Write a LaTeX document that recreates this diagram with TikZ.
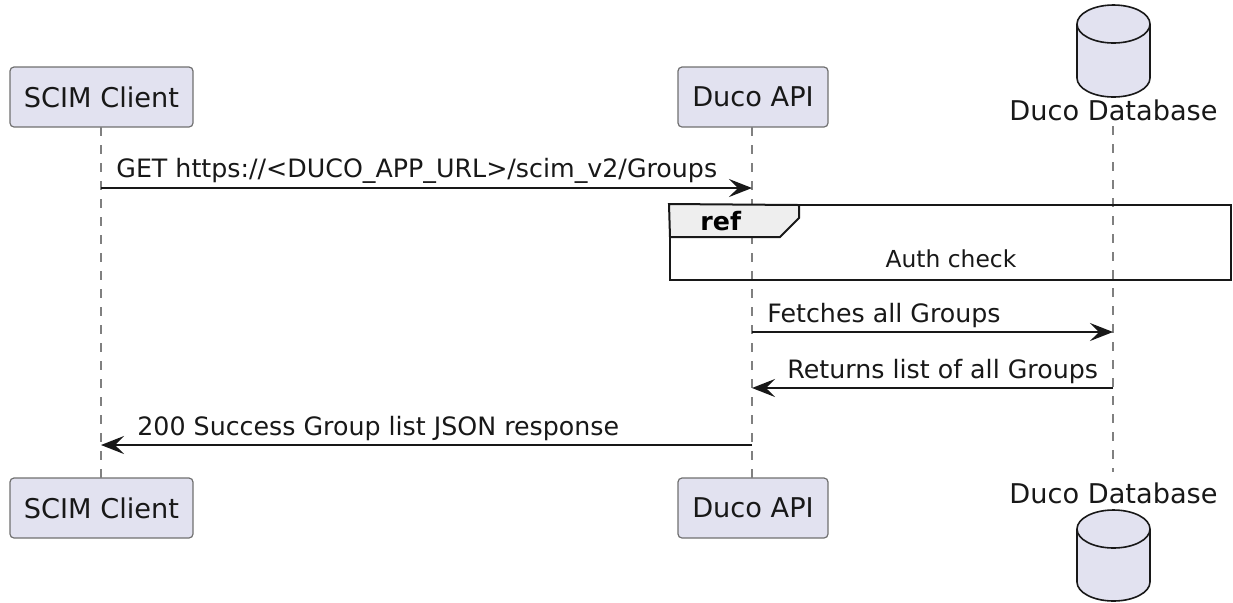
\documentclass[tikz,border=0pt]{standalone}
\usepackage{fontspec}
\setmainfont{DejaVu Sans}
\usetikzlibrary{arrows.meta}
\definecolor{partfill}{HTML}{E2E2F0}
\definecolor{partline}{HTML}{707070}
\definecolor{lifecol}{HTML}{808080}
\definecolor{ink}{HTML}{181818}
\definecolor{tabfill}{HTML}{EEEEEE}
\begin{document}
\begin{tikzpicture}[x=0.5pt,y=-0.5pt,
  participant/.style={draw=partline, line width=0.6pt, fill=partfill, rounded corners=2pt,
    minimum width=#1, minimum height=30pt, inner sep=0pt,
    font=\fontsize{13.6}{16}\selectfont, text=ink},
  dblabel/.style={anchor=base, inner sep=0pt, font=\fontsize{13.6}{16}\selectfont, text=ink},
  lifeline/.style={draw=lifecol, line width=0.6pt, dash pattern=on 4.5pt off 4.5pt},
  msg/.style={draw=ink, line width=0.8pt, -{Stealth[length=11.5pt,width=9pt,inset=4.5pt]}},
  msglabel/.style={anchor=base west, inner sep=0pt, font=\fontsize{12.65}{15}\selectfont, text=ink},
  dbshape/.style={draw=ink, line width=0.8pt, fill=partfill},
  refframe/.style={draw=ink, line width=1pt},
  reftab/.style={draw=ink, line width=1pt, fill=tabfill},
  reftitle/.style={anchor=base west, inner sep=0pt, font=\bfseries\fontsize{12.65}{15}\selectfont, text=black},
  refbody/.style={anchor=base, inner sep=0pt, font=\fontsize{11.7}{14}\selectfont, text=ink}
]
\useasboundingbox (0,0) rectangle (1233,602);

% participants (top)
\node[participant=91.5pt] (scimA) at (101.5,97) {SCIM Client};
\node[participant=75pt] (apiA) at (753,97) {Duco API};
\node[dblabel] (dbA) at (1113.5,120) {Duco Database};
% participants (bottom)
\node[participant=91.5pt] (scimB) at (101.5,508) {SCIM Client};
\node[participant=75pt] (apiB) at (753,508) {Duco API};
\node[dblabel] (dbB) at (1113.5,503) {Duco Database};

% database cylinders
\foreach \yc/\yb in {24/78, 529/582}{
  \path[dbshape] (1077,\yc) -- (1077,\yb)
     arc[start angle=180, end angle=360, x radius=18.25pt, y radius=9.5pt]
     -- (1150,\yc)
     arc[start angle=0, end angle=180, x radius=18.25pt, y radius=9.5pt] -- cycle;
  \draw[dbshape, fill=none] (1077,\yc)
     arc[start angle=180, end angle=360, x radius=18.25pt, y radius=9.5pt];
}

% lifelines
\coordinate (scimTop) at (101,127);
\coordinate (scimBot) at (101,478);
\coordinate (apiTop) at (752,127);
\coordinate (apiBot) at (752,478);
\coordinate (dbTop) at (1113,126);
\coordinate (dbBot) at (1113,472);
\draw[lifeline] (scimTop) -- (scimBot);
\draw[lifeline] (apiTop) -- (apiBot);
\draw[lifeline] (dbTop) -- (dbBot);

% message points
\coordinate (m1s) at (101,188);  \coordinate (m1e) at (752,188);
\coordinate (m2s) at (752,332);  \coordinate (m2e) at (1113,332);
\coordinate (m3s) at (1113,388); \coordinate (m3e) at (752,388);
\coordinate (m4s) at (752,445);  \coordinate (m4e) at (101,445);

\draw[msg] (m1s) -- (m1e);
\node[msglabel] (l1) at (116,177) {GET https://<DUCO\_APP\_URL>/scim\_v2/Groups};

% ref frame
\node[refframe, minimum width=280.5pt, minimum height=37.5pt, inner sep=0pt] (refbox) at (950.5,242.5) {};
\path[reftab] (refbox.north west) -- (799,205) -- (799,218) -- (780,237) -- (670,237) -- cycle;
\node[reftitle] (reft) at (700,230) {ref};
\node[refbody] (refb) at (951,267) {Auth check};

\draw[msg] (m2s) -- (m2e);
\node[msglabel] (l2) at (767,322) {Fetches all Groups};
\draw[msg] (m3s) -- (m3e);
\node[msglabel] (l3) at (787,378) {Returns list of all Groups};
\draw[msg] (m4s) -- (m4e);
\node[msglabel] (l4) at (137,435) {200 Success Group list JSON response};
\end{tikzpicture}
\end{document}
